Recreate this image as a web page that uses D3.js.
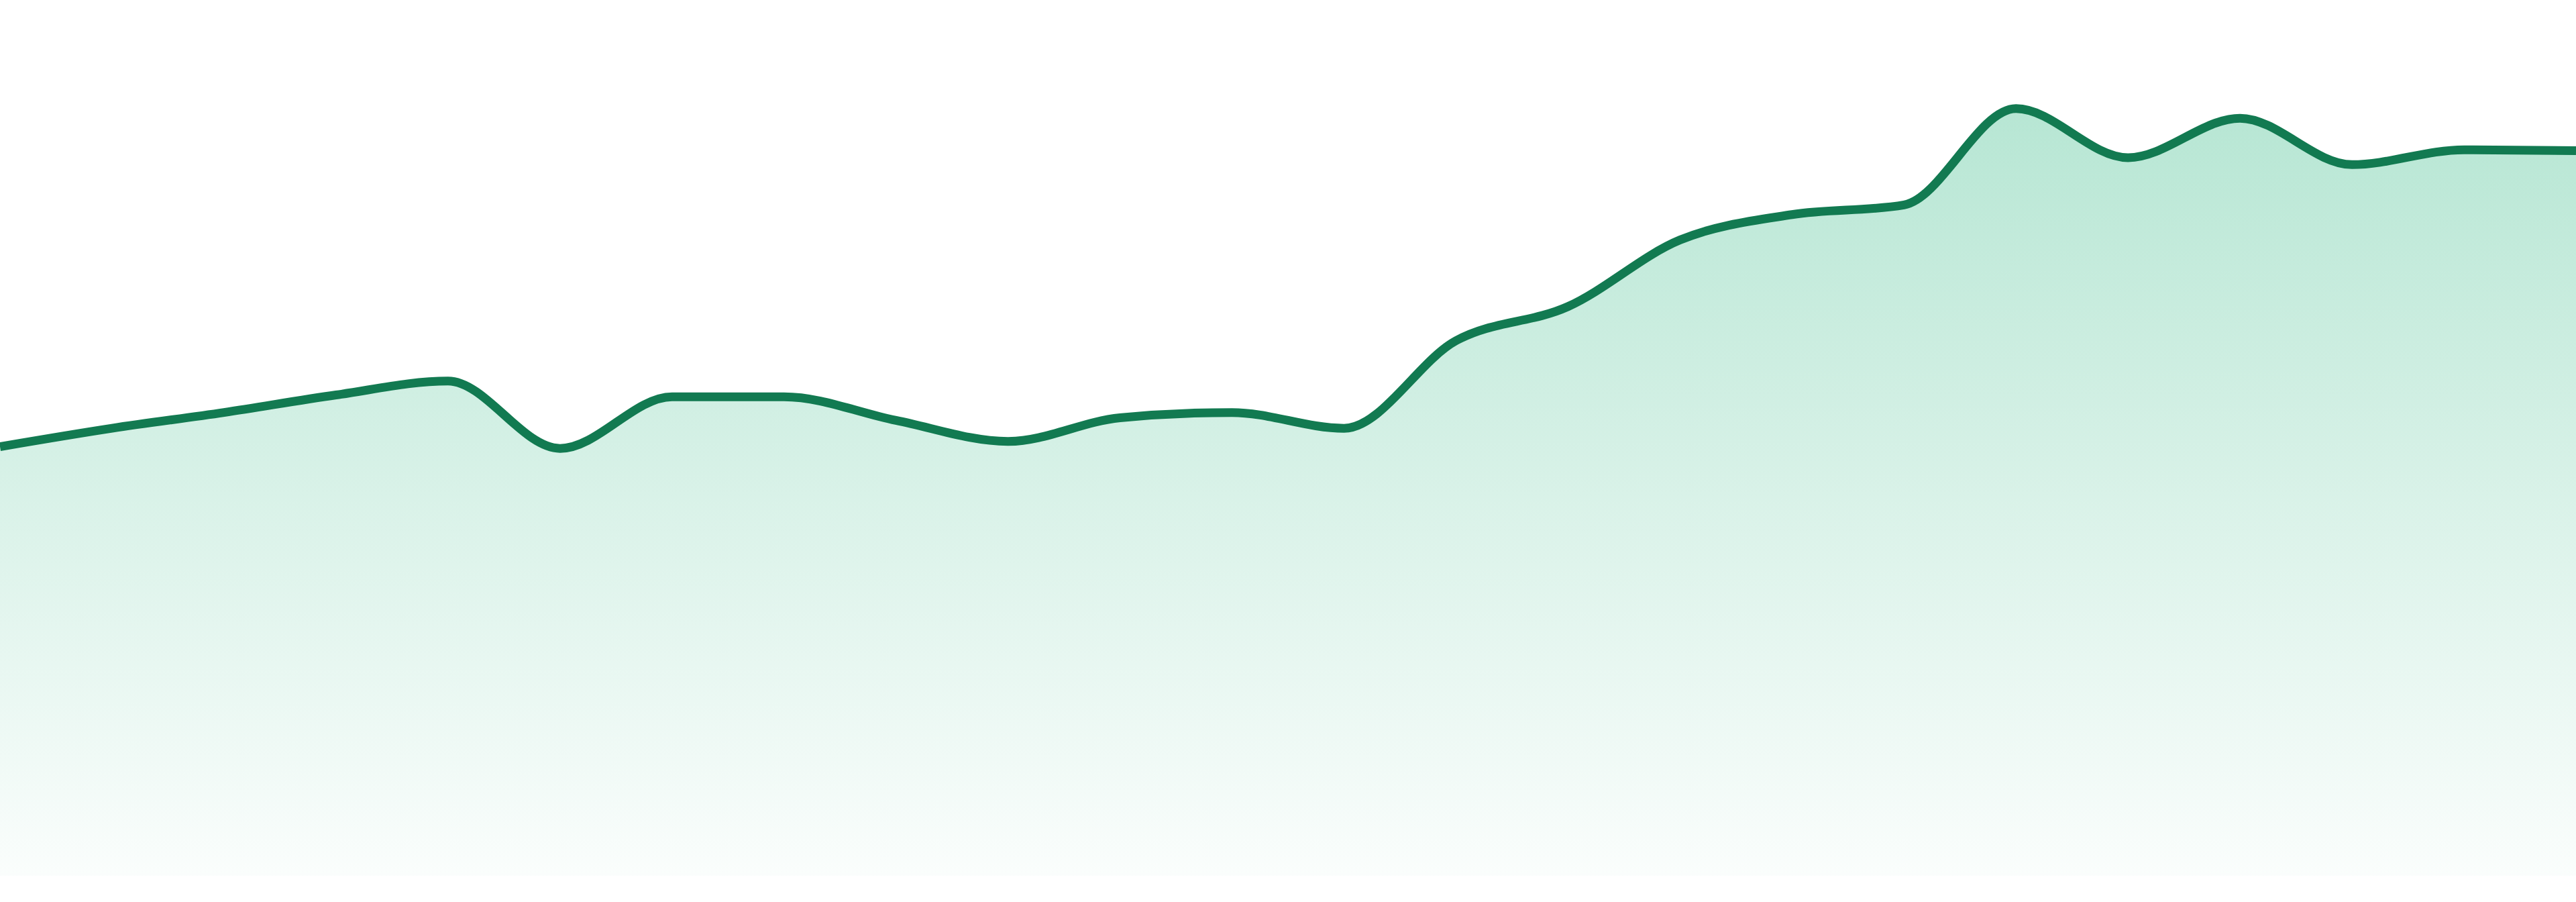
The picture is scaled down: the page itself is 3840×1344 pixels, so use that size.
<!DOCTYPE html>
<html>
<head>
<meta charset="utf-8">
<script src="https://cdn.jsdelivr.net/npm/d3@7"></script>
<style>
  html, body { margin: 0; padding: 0; background: #ffffff; overflow: hidden; }
  #chart { width: 3840px; height: 1344px; }
</style>
</head>
<body>
<div id="chart"></div>
<script>
const points = d3.range(24);
const values = [
  49.0, 51.1, 52.9, 54.9, 56.5, 48.8, 54.7, 54.7, 52.0, 49.6, 52.3, 52.9,
  51.1, 61.1, 65.0, 72.6, 75.5, 76.6, 87.6, 82.0, 86.5, 81.2, 82.9, 82.8
];
const valueDomain = [0, 100];

const lineColor = "#127a51";
const fillColor = "#16af73";

function createChart(containerId) {
  const container = d3.select(containerId);
  container.selectAll("*").remove();

  const width = 3840;
  const height = 1344;
  const margin = { top: 0, right: 0, bottom: 39, left: 0 };

  const svg = container
    .append("svg")
    .attr("width", width)
    .attr("height", height);

  const x = d3
    .scaleLinear()
    .domain(d3.extent(points))
    .range([margin.left, width - margin.right]);

  const y = d3
    .scaleLinear()
    .domain(valueDomain)
    .range([height - margin.bottom, margin.top]);

  const data = points.map(i => ({ i, value: values[i] }));

  // soft green fade from the top of the series down to the baseline
  const grad = svg
    .append("defs")
    .append("linearGradient")
    .attr("id", "area-fill")
    .attr("gradientUnits", "userSpaceOnUse")
    .attr("x1", 0)
    .attr("x2", 0)
    .attr("y1", y(d3.max(values)))
    .attr("y2", y(0));

  grad.append("stop").attr("offset", 0).attr("stop-color", fillColor).attr("stop-opacity", 0.31);
  grad.append("stop").attr("offset", 1).attr("stop-color", fillColor).attr("stop-opacity", 0.02);

  const area = d3
    .area()
    .x(d => x(d.i))
    .y0(y(0))
    .y1(d => y(d.value))
    .curve(d3.curveMonotoneX);

  const line = d3
    .line()
    .x(d => x(d.i))
    .y(d => y(d.value))
    .curve(d3.curveMonotoneX);

  svg
    .append("path")
    .datum(data)
    .attr("fill", "url(#area-fill)")
    .attr("d", area);

  svg
    .append("path")
    .datum(data)
    .attr("fill", "none")
    .attr("stroke", lineColor)
    .attr("stroke-width", 13)
    .attr("stroke-linejoin", "round")
    .attr("d", line);
}

createChart("#chart");
</script>
</body>
</html>
